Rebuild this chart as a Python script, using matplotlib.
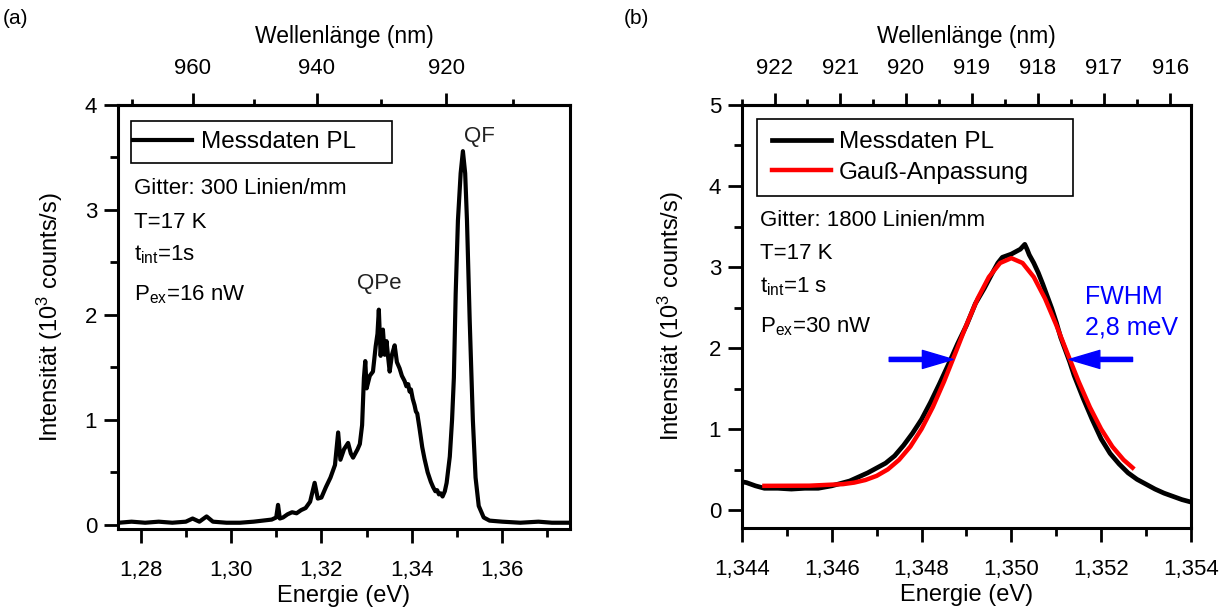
import numpy as np
import matplotlib
matplotlib.use('Agg')
import matplotlib.pyplot as plt
from matplotlib.patches import Rectangle
from matplotlib.ticker import MultipleLocator, FuncFormatter

plt.rcParams['font.family'] = ['Liberation Sans', 'DejaVu Sans']
plt.rcParams['mathtext.fontset'] = 'custom'
plt.rcParams['mathtext.rm'] = 'Liberation Sans'
plt.rcParams['mathtext.it'] = 'Liberation Sans:italic'

# (a) PL spectrum, 300 lines/mm
energy_a = [1.2752, 1.278, 1.281, 1.284, 1.287, 1.290, 1.2915, 1.293, 1.2946, 1.296,
            1.299, 1.302, 1.305, 1.307, 1.309, 1.3100, 1.3104, 1.3108, 1.3115, 1.3125,
            1.3135, 1.3145, 1.3155, 1.3165, 1.3175, 1.3185, 1.3192, 1.3200, 1.3210, 1.3220,
            1.3230, 1.3237, 1.3242, 1.3250, 1.3259, 1.3265, 1.3270, 1.3280, 1.3285, 1.3290,
            1.3294, 1.3297, 1.3300, 1.3307, 1.3314, 1.3320, 1.3324, 1.3327, 1.3331, 1.3336,
            1.3340, 1.3344, 1.3348, 1.3351, 1.3356, 1.3362, 1.3367, 1.3373, 1.3378, 1.3384,
            1.3388, 1.3392, 1.3395, 1.3398, 1.3402, 1.3406, 1.3409, 1.3412, 1.3417, 1.3423,
            1.3428, 1.3435, 1.3442, 1.3447, 1.3452, 1.3456, 1.3460, 1.3464, 1.3468, 1.3473,
            1.3477, 1.3484, 1.3489, 1.3493, 1.3497, 1.3502, 1.3508, 1.3513, 1.3518, 1.3522,
            1.3528, 1.3535, 1.3541, 1.3548, 1.3559, 1.3572, 1.3600, 1.3640, 1.3680, 1.3710,
            1.3745]
counts_a = [0.02, 0.03, 0.02, 0.03, 0.02, 0.03, 0.06, 0.03, 0.08, 0.03,
            0.02, 0.02, 0.03, 0.04, 0.05, 0.07, 0.19, 0.06, 0.07, 0.10,
            0.12, 0.11, 0.14, 0.16, 0.22, 0.40, 0.25, 0.26, 0.36, 0.45,
            0.57, 0.88, 0.62, 0.72, 0.78, 0.68, 0.64, 0.72, 0.77, 0.95,
            1.40, 1.56, 1.30, 1.42, 1.46, 1.70, 1.82, 2.05, 1.61, 1.86,
            1.62, 1.75, 1.58, 1.46, 1.62, 1.71, 1.55, 1.49, 1.42, 1.37,
            1.32, 1.34, 1.27, 1.29, 1.20, 1.14, 1.08, 1.06, 0.92, 0.74,
            0.63, 0.50, 0.41, 0.36, 0.32, 0.33, 0.29, 0.30, 0.27, 0.32,
            0.40, 0.65, 1.00, 1.40, 2.20, 2.90, 3.35, 3.56, 3.35, 2.90,
            1.95, 1.00, 0.45, 0.18, 0.07, 0.04, 0.03, 0.02, 0.03, 0.02,
            0.02]

# (b) PL spectrum, 1800 lines/mm, and Gaussian fit
energy_b = [1.3440, 1.3441, 1.3443, 1.3445, 1.3448, 1.3451, 1.3454, 1.3457, 1.3460, 1.3462,
            1.3464, 1.3466, 1.3468, 1.3470, 1.3472, 1.3474, 1.3476, 1.3478, 1.3480, 1.3482,
            1.3484, 1.3486, 1.3488, 1.3490, 1.3492, 1.3494, 1.3496, 1.3497, 1.3498, 1.3499,
            1.3500, 1.3501, 1.3502, 1.3503, 1.35035, 1.3504, 1.3505, 1.3506, 1.3507, 1.3508,
            1.3509, 1.3510, 1.3511, 1.3512, 1.3513, 1.3514, 1.3515, 1.3516, 1.3517, 1.3518,
            1.3520, 1.3522, 1.3524, 1.3526, 1.3528, 1.3530, 1.3532, 1.3534, 1.3536, 1.3538,
            1.3540]
counts_b = [0.35, 0.34, 0.30, 0.27, 0.27, 0.26, 0.27, 0.27, 0.30, 0.33,
            0.36, 0.41, 0.46, 0.52, 0.58, 0.67, 0.80, 0.95, 1.12, 1.33,
            1.56, 1.80, 2.05, 2.28, 2.55, 2.74, 2.95, 3.05, 3.12, 3.14,
            3.16, 3.19, 3.22, 3.28, 3.22, 3.15, 3.05, 2.93, 2.79, 2.64,
            2.49, 2.32, 2.13, 1.98, 1.83, 1.66, 1.52, 1.38, 1.25, 1.12,
            0.88, 0.70, 0.57, 0.46, 0.38, 0.32, 0.26, 0.21, 0.17, 0.13,
            0.10]

energy_fit = [1.3445, 1.3455, 1.34625, 1.3465, 1.34675, 1.3470, 1.34725, 1.3475, 1.34775, 1.3480,
              1.34825, 1.3485, 1.34875, 1.3490, 1.34925, 1.3495, 1.34975, 1.3500, 1.35025, 1.3505,
              1.35075, 1.3510, 1.35125, 1.3515, 1.35175, 1.3520, 1.35225, 1.3525, 1.3527]
counts_fit = [0.300, 0.302, 0.321, 0.340, 0.372, 0.423, 0.503, 0.621, 0.784, 1.001,
              1.270, 1.586, 1.933, 2.286, 2.612, 2.877, 3.050, 3.110, 3.050, 2.877,
              2.612, 2.286, 1.933, 1.586, 1.270, 1.001, 0.784, 0.621, 0.524]

fwhm_left = [1.34728, 1.3487]
fwhm_right = [1.3527, 1.35129]
fwhm_level = 1.86

HC = 1239.84  # eV nm


def e_to_nm(x):
    x = np.asarray(x, dtype=float)
    with np.errstate(divide='ignore'):
        return HC / x


def style_axes(ax):
    for sp in ax.spines.values():
        sp.set_linewidth(2.2)
    ax.tick_params(which='major', direction='out', length=10, width=2, labelsize=16)
    ax.tick_params(which='minor', direction='out', length=6, width=2)
    ax.tick_params(axis='x', which='major', pad=12)
    ax.tick_params(axis='y', which='major', pad=5)
    ax.tick_params(top=False, right=False, which='both')


def top_axis(ax, major, minor):
    sec = ax.secondary_xaxis('top', functions=(e_to_nm, e_to_nm))
    sec.set_xticks(major)
    sec.set_xticks(minor, minor=True)
    sec.spines['top'].set_linewidth(2.2)
    sec.tick_params(which='major', direction='out', length=8.5, width=2, labelsize=16, pad=10)
    sec.tick_params(which='minor', direction='out', length=4.5, width=2)
    sec.set_xlabel('Wellenlänge (nm)', fontsize=16.5, labelpad=11)
    return sec


def legend_box(ax, x0, y0, x1, y1):
    ax.add_patch(Rectangle((x0, y0), x1 - x0, y1 - y0, transform=ax.transAxes,
                           fill=True, facecolor='white', edgecolor='black', lw=1.2, zorder=4))


fig = plt.figure(figsize=(12.28, 6.15), dpi=100)
ax1 = fig.add_axes([0.0961, 0.1398, 0.3681, 0.6895])
ax2 = fig.add_axes([0.6042, 0.1415, 0.3656, 0.6878])

# ---- panel (a)
ax1.plot(energy_a, counts_a, color='black', lw=3.0, label='Messdaten PL')
ax1.set_xlim(1.275, 1.375)
ax1.set_ylim(-0.04, 4)
ax1.xaxis.set_major_locator(MultipleLocator(0.02))
ax1.xaxis.set_minor_locator(MultipleLocator(0.01))
ax1.yaxis.set_major_locator(MultipleLocator(1))
ax1.yaxis.set_minor_locator(MultipleLocator(0.5))
ax1.xaxis.set_major_formatter(FuncFormatter(lambda v, p: f'{v:.2f}'.replace('.', ',')))
style_axes(ax1)
ax1.set_xlabel('Energie (eV)', fontsize=17, labelpad=3)
ax1.set_ylabel(r'Intensität (10$^{3}$ counts/s)', fontsize=17, labelpad=14)
top_axis(ax1, [960, 940, 920], [970, 950, 930, 910])

legend_box(ax1, 0.0288, 0.863, 0.606, 0.962)
leg1 = ax1.legend(loc='center left', bbox_to_anchor=(0.0, 0.9125), fontsize=17.5,
                  frameon=False, handlelength=2.45, handletextpad=0.35,
                  borderpad=0, borderaxespad=0.6)
leg1.set_zorder(5)

info_a = ['Gitter: 300 Linien/mm', 'T=17 K', r't$_{\mathrm{int}}$=1s', r'P$_{\mathrm{ex}}$=16 nW']
ypos_a = [0.802, 0.724, 0.646, 0.552]
for t, y in zip(info_a, ypos_a):
    ax1.text(0.035, y, t, transform=ax1.transAxes, fontsize=16, va='center', ha='left')
ax1.text(1.3329, 2.30, 'QPe', fontsize=16, ha='center', va='center', color='#222222')
ax1.text(1.3550, 3.70, 'QF', fontsize=16, ha='center', va='center', color='#222222')

# ---- panel (b)
ax2.plot(energy_b, counts_b, color='black', lw=3.4, label='Messdaten PL')
ax2.plot(energy_fit, counts_fit, color='#ff0000', lw=3.2, label='Gauß-Anpassung')
ax2.set_xlim(1.344, 1.354)
ax2.set_ylim(-0.22, 5)
ax2.xaxis.set_major_locator(MultipleLocator(0.002))
ax2.xaxis.set_minor_locator(MultipleLocator(0.001))
ax2.yaxis.set_major_locator(MultipleLocator(1))
ax2.yaxis.set_minor_locator(MultipleLocator(0.5))
ax2.xaxis.set_major_formatter(FuncFormatter(lambda v, p: f'{v:.3f}'.replace('.', ',')))
style_axes(ax2)
ax2.set_xlabel('Energie (eV)', fontsize=17, labelpad=3)
ax2.set_ylabel(r'Intensität (10$^{3}$ counts/s)', fontsize=17, labelpad=16)
top_axis(ax2, [922, 921, 920, 919, 918, 917, 916],
         [922.5, 921.5, 920.5, 919.5, 918.5, 917.5, 916.5, 915.5])

legend_box(ax2, 0.0334, 0.785, 0.737, 0.967)
leg2 = ax2.legend(loc='center left', bbox_to_anchor=(0.0, 0.876), fontsize=17.5,
                  frameon=False, handlelength=2.4, handletextpad=0.35,
                  borderpad=0, borderaxespad=1.25, labelspacing=0.35)
leg2.set_zorder(5)

info_b = ['Gitter: 1800 Linien/mm', 'T=17 K', r't$_{\mathrm{int}}$=1 s', r'P$_{\mathrm{ex}}$=30 nW']
ypos_b = [0.728, 0.650, 0.570, 0.475]
for t, y in zip(info_b, ypos_b):
    ax2.text(0.040, y, t, transform=ax2.transAxes, fontsize=16, va='center', ha='left')

arrow_kw = dict(facecolor='#0000ff', edgecolor='#0000ff', width=3, headwidth=13,
                headlength=22, shrink=0)
ax2.annotate('', xy=(fwhm_left[1], fwhm_level), xytext=(fwhm_left[0], fwhm_level),
             arrowprops=arrow_kw)
ax2.annotate('', xy=(fwhm_right[1], fwhm_level), xytext=(fwhm_right[0], fwhm_level),
             arrowprops=arrow_kw)
ax2.text(1.35164, 2.63, 'FWHM', color='#0000ff', fontsize=18, ha='left', va='center')
ax2.text(1.35164, 2.25, '2,8 meV', color='#0000ff', fontsize=18, ha='left', va='center')

fig.text(15 / 1228, 1 - 18 / 615, '(a)', fontsize=15, ha='center', va='center')
fig.text(636 / 1228, 1 - 18 / 615, '(b)', fontsize=15, ha='center', va='center')

fig.savefig('out.png', dpi=100)
